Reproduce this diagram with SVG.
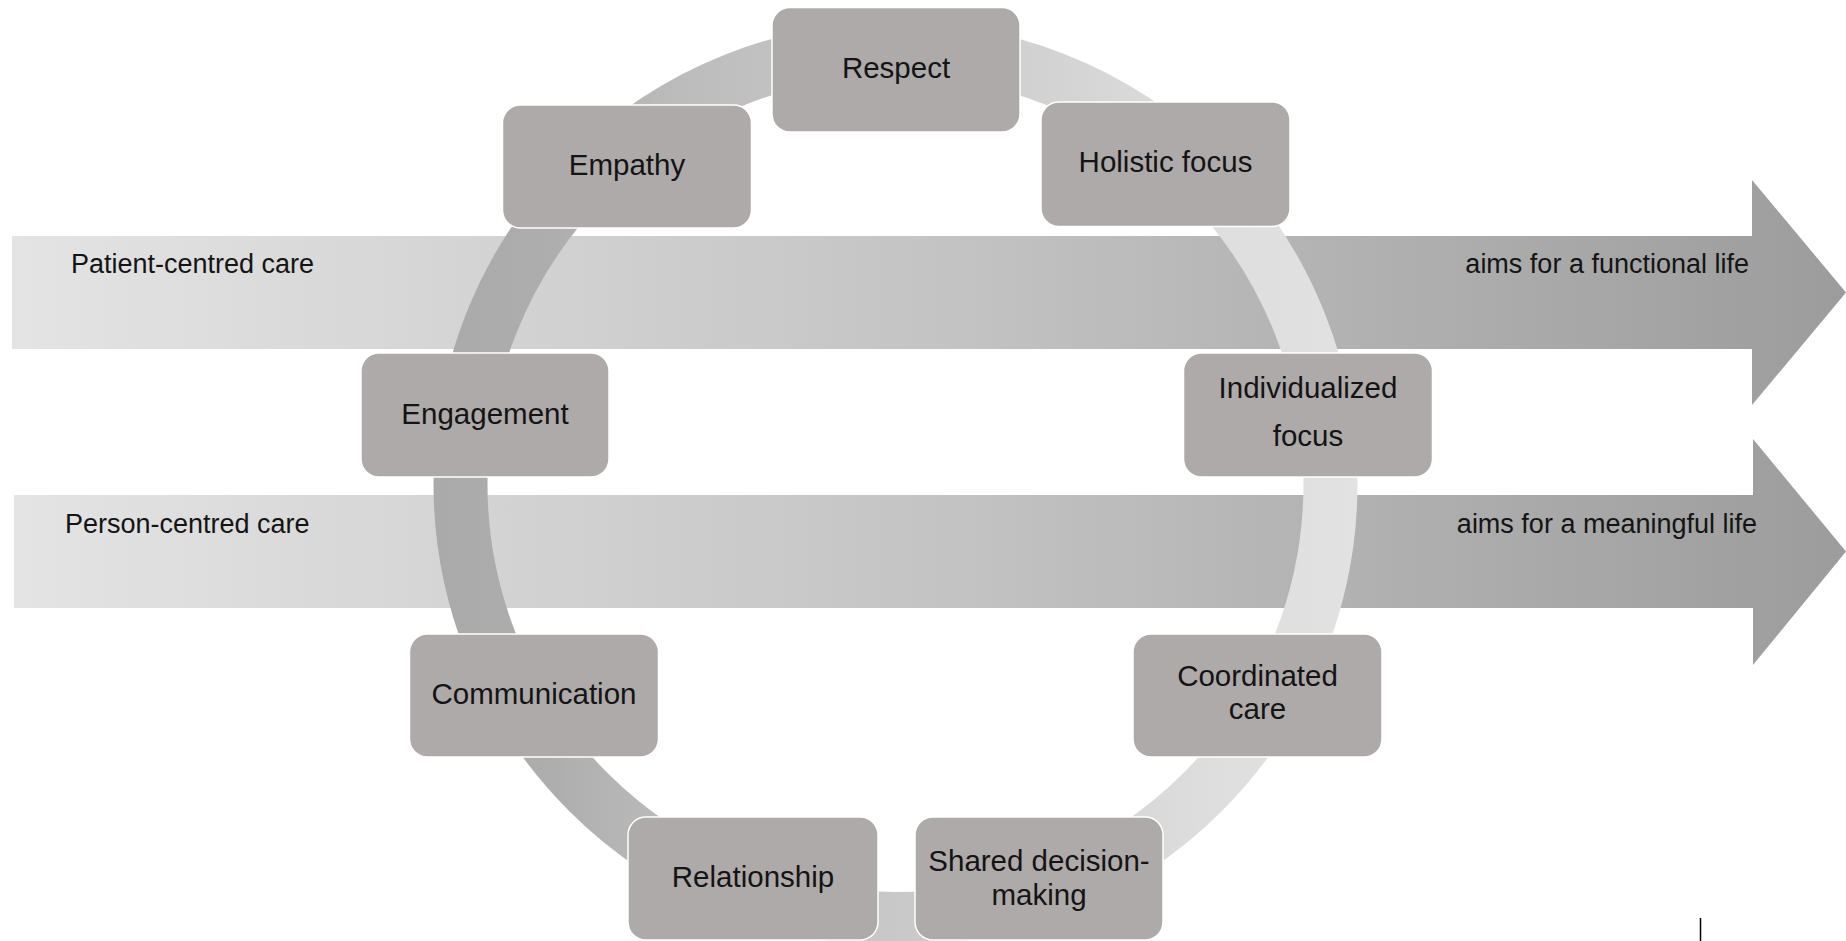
<svg xmlns="http://www.w3.org/2000/svg" width="1846" height="941" viewBox="0 0 1846 941">
  <style>
    .node rect { fill: #aeaaaa; stroke: #ffffff; stroke-width: 1.5; }
    .node text { font-family: "Liberation Sans", Arial, sans-serif; font-size: 29.5px; fill: #141414; text-anchor: middle; }
    .band text { font-family: "Liberation Sans", Arial, sans-serif; font-size: 27px; fill: #141414; }
  </style>
  <defs>
    <linearGradient id="bandGrad" gradientUnits="userSpaceOnUse" x1="12" y1="0" x2="1846" y2="0">
      <stop offset="0" stop-color="#e4e4e4"/>
      <stop offset="0.5" stop-color="#c4c4c4"/>
      <stop offset="1" stop-color="#9c9c9c"/>
    </linearGradient>
    <linearGradient id="ringGrad" gradientUnits="userSpaceOnUse" x1="433" y1="0" x2="1358" y2="0">
      <stop offset="0" stop-color="#aaaaaa"/>
      <stop offset="0.12" stop-color="#adadad"/>
      <stop offset="0.28" stop-color="#bdbdbd"/>
      <stop offset="0.5" stop-color="#c8c8c8"/>
      <stop offset="0.7" stop-color="#d5d5d5"/>
      <stop offset="0.85" stop-color="#dedede"/>
      <stop offset="1" stop-color="#e2e2e2"/>
    </linearGradient>
  </defs>
  <rect x="0" y="0" width="1846" height="941" fill="#ffffff"/>

  <g id="band-patient" class="band">
    <polygon points="12,236 1752,236 1752,180 1846,292.5 1752,405 1752,349 12,349" fill="url(#bandGrad)"/>
    <text x="71" y="273">Patient-centred care</text>
    <text x="1749" y="273" text-anchor="end">aims for a functional life</text>
  </g>
  <g id="band-person" class="band">
    <polygon points="14,495 1753,495 1753,439 1846,551.5 1753,665 1753,608 14,608" fill="url(#bandGrad)"/>
    <text x="65" y="533">Person-centred care</text>
    <text x="1757" y="532.5" text-anchor="end">aims for a meaningful life</text>
  </g>

  <g id="connectors">
    <circle cx="895.5" cy="484" r="435" fill="none" stroke="url(#ringGrad)" stroke-width="54"/>
  </g>

  <g id="node-respect" class="node">
    <rect x="772" y="7.5" width="248" height="124.5" rx="18"/>
    <text x="896" y="78">Respect</text>
  </g>
  <g id="node-empathy" class="node">
    <rect x="502.5" y="105" width="249" height="123" rx="18"/>
    <text x="627" y="175">Empathy</text>
  </g>
  <g id="node-holistic" class="node">
    <rect x="1041" y="102" width="249" height="124.5" rx="18"/>
    <text x="1165.5" y="172">Holistic focus</text>
  </g>
  <g id="node-engagement" class="node">
    <rect x="361" y="353" width="248" height="124" rx="18"/>
    <text x="485" y="424">Engagement</text>
  </g>
  <g id="node-individualized" class="node">
    <rect x="1183.5" y="353" width="249" height="124" rx="18"/>
    <text x="1308" y="398">Individualized</text>
    <text x="1308" y="445.5">focus</text>
  </g>
  <g id="node-communication" class="node">
    <rect x="409.5" y="634" width="249" height="123" rx="18"/>
    <text x="534" y="704">Communication</text>
  </g>
  <g id="node-coordinated" class="node">
    <rect x="1133" y="634" width="249" height="123" rx="18"/>
    <text x="1257.5" y="686">Coordinated</text>
    <text x="1257.5" y="718.5">care</text>
  </g>
  <g id="node-relationship" class="node">
    <rect x="628" y="817" width="250" height="123" rx="18"/>
    <text x="753" y="887">Relationship</text>
  </g>
  <g id="node-shared" class="node">
    <rect x="915" y="817" width="248" height="123" rx="18"/>
    <text x="1039" y="870.5">Shared decision-</text>
    <text x="1039" y="905">making</text>
  </g>

  <line x1="1700.5" y1="918" x2="1700.5" y2="941" stroke="#000000" stroke-width="1.5"/>
</svg>
